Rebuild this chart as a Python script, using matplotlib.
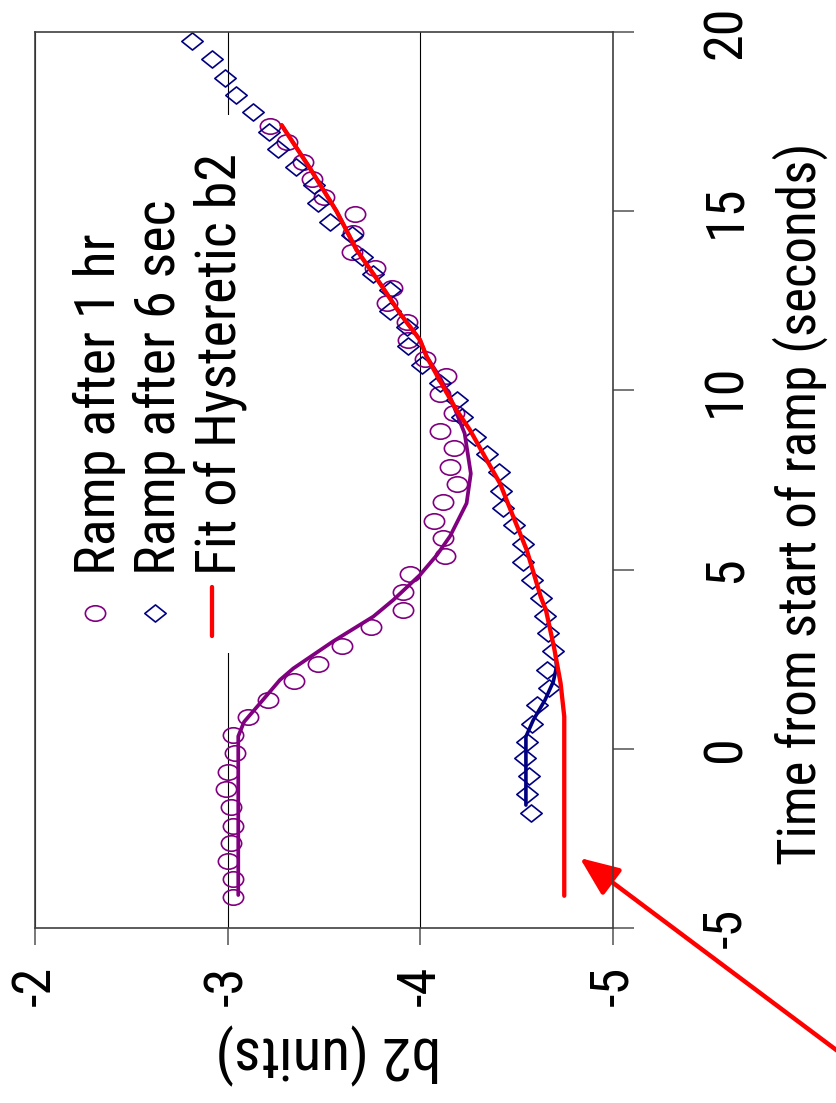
import matplotlib
matplotlib.use("Agg")
import matplotlib.pyplot as plt
from matplotlib import font_manager as fm
from matplotlib.path import Path
from matplotlib.patches import Rectangle

# ---------------- data ----------------
time_1hr = [-4.14, -3.64, -3.12, -2.64, -2.15, -1.63, -1.13, -0.65, -0.13, 0.39,
            0.88, 1.36, 1.88, 2.37, 2.87, 3.39, 3.87, 4.37, 4.89, 5.38,
            5.87, 6.36, 6.89, 7.39, 7.87, 8.38, 8.88, 9.36, 9.90, 10.40,
            10.87, 11.41, 11.92, 12.43, 12.85, 13.41, 13.87, 14.38, 14.91, 15.40,
            15.90, 16.38, 16.92, 17.39]
b2_1hr = [-3.026, -3.026, -3.003, -3.015, -3.026, -3.015, -2.991, -3.000, -3.038, -3.026,
          -3.107, -3.207, -3.344, -3.470, -3.595, -3.742, -3.911, -3.911, -3.946, -4.128,
          -4.116, -4.071, -4.116, -4.191, -4.154, -4.174, -4.102, -4.174, -4.102, -4.133,
          -4.024, -3.937, -3.932, -3.828, -3.851, -3.764, -3.643, -3.652, -3.661, -3.500,
          -3.436, -3.389, -3.306, -3.219]

time_6sec = [-1.78, -1.27, -0.76, -0.27, 0.20, 0.69, 1.22, 1.71, 2.20, 2.74,
             3.22, 3.71, 4.22, 4.71, 5.22, 5.71, 6.24, 6.73, 7.20, 7.73,
             8.23, 8.69, 9.27, 9.73, 10.21, 10.71, 11.24, 11.76, 12.22, 12.80,
             13.26, 13.71, 14.34, 14.71, 15.22, 15.73, 16.24, 16.74, 17.20, 17.76,
             18.25, 18.72, 19.25, 19.75]
b2_6sec = [-4.572, -4.555, -4.565, -4.543, -4.555, -4.577, -4.603, -4.669, -4.655, -4.690,
           -4.664, -4.647, -4.626, -4.577, -4.531, -4.534, -4.486, -4.427, -4.417, -4.410,
           -4.347, -4.283, -4.214, -4.191, -4.102, -4.007, -3.937, -3.929, -3.842, -3.842,
           -3.756, -3.695, -3.643, -3.531, -3.470, -3.448, -3.354, -3.263, -3.216, -3.133,
           -3.043, -2.986, -2.917, -2.813]

fit1hr_time = [-4.08, 0.35, 0.75, 1.27, 1.92, 2.24, 3.00, 3.69, 4.15, 4.85, 5.40,
               5.93, 6.85, 7.68, 8.80, 9.82, 10.38, 10.94, 11.41, 12.15, 12.99,
               13.92, 14.99, 16.20, 17.40]
fit1hr_b2 = [-3.055, -3.055, -3.085, -3.168, -3.271, -3.340, -3.548, -3.756, -3.859, -3.998, -4.085,
             -4.154, -4.240, -4.262, -4.230, -4.154, -4.100, -4.033, -3.998, -3.894, -3.790,
             -3.669, -3.566, -3.427, -3.280]

fit6s_time = [-1.57, 0.34, 0.80, 1.36, 1.87, 2.29, 2.60]
fit6s_b2 = [-4.548, -4.548, -4.586, -4.647, -4.690, -4.707, -4.702]

hyst_time = [-4.10, 0.90, 1.83, 2.80, 3.87, 4.24, 5.55, 6.48, 7.41, 8.15, 8.90,
             9.45, 10.10, 10.94, 11.41, 12.15, 12.99, 13.92, 14.99, 16.20, 17.40]
hyst_b2 = [-4.747, -4.747, -4.728, -4.695, -4.652, -4.625, -4.552, -4.482, -4.413, -4.335, -4.257,
           -4.188, -4.119, -4.033, -3.998, -3.894, -3.790, -3.669, -3.566, -3.427, -3.280]

time_ticks = [-5, 0, 5, 10, 15, 20]
b2_ticks = [-2, -3, -4, -5]
legend_labels = ["Ramp after 1 hr", "Ramp after 6 sec", "Fit of Hysteretic b2"]
x_label = "b2 (units)"
y_label = "Time from start of ramp (seconds)"

PURPLE = "#800080"
NAVY = "#000080"
RED = "#FF0000"

# ---------------- font ----------------
names = {f.name for f in fm.fontManager.ttflist}
FONT, K = "DejaVu Sans", 0.72
for fam, k in [("Liberation Sans Narrow", 1.0), ("Roboto Condensed", 0.93),
               ("Liberation Sans", 0.82)]:
    if fam in names:
        FONT, K = fam, k
        break
plt.rcParams["font.family"] = [FONT, "DejaVu Sans"]

# ---------------- markers ----------------
uc = Path.unit_circle()
ellipse = Path(uc.vertices * [1.0, 0.76], uc.codes)
diamond = Path([(0, 0.8), (1, 0), (0, -0.8), (-1, 0), (0, 0.8)],
               [Path.MOVETO, Path.LINETO, Path.LINETO, Path.LINETO, Path.CLOSEPOLY])
MS_C, MS_D, MEW = 14.6, 15.4, 1.2

# ---------------- figure ----------------
fig = plt.figure(figsize=(8.36, 11.03), dpi=100)
ax = fig.add_axes([35 / 836, 1 - 928 / 1103, 578 / 836, 896 / 1103])
ax.set_xlim(-2, -5)
ax.set_ylim(-5, 20)

for s in ax.spines.values():
    s.set_color("#404040")
    s.set_linewidth(1.2)
    s.set_zorder(6)

ax.set_xticks(b2_ticks)
ax.set_xticklabels([str(v) for v in b2_ticks])
ax.set_yticks(time_ticks)
ax.set_yticklabels([str(v) for v in time_ticks])
ax.yaxis.tick_right()
ax.tick_params(axis="y", left=False, right=True, labelleft=False, labelright=True,
               direction="out", length=15, width=1.2, color="#606060",
               pad=48, labelsize=42 * K, labelrotation=90)
ax.tick_params(axis="x", direction="out", length=12, width=1.2, color="#606060",
               pad=15, labelsize=42 * K, labelrotation=90)
for lab in ax.get_yticklabels():
    lab.set_verticalalignment("center")

ax.set_axisbelow(True)
ax.grid(axis="x", color="black", lw=0.8)

# legend background (covers the gridline)
ax.add_patch(Rectangle((-2.14, 2.673), -0.903, 17.68 - 2.673,
                       facecolor="white", edgecolor="none", zorder=1))

# data
ax.plot(b2_1hr, time_1hr, ls="none", marker=ellipse, ms=MS_C, mfc="none",
        mec=PURPLE, mew=MEW, zorder=3)
ax.plot(b2_6sec, time_6sec, ls="none", marker=diamond, ms=MS_D, mfc="none",
        mec=NAVY, mew=MEW, zorder=3)
ax.plot(fit1hr_b2, fit1hr_time, color=PURPLE, lw=2.7, zorder=4,
        solid_joinstyle="round", solid_capstyle="round")
ax.plot(fit6s_b2, fit6s_time, color=NAVY, lw=2.6, zorder=4,
        solid_joinstyle="round", solid_capstyle="round")
ax.plot(hyst_b2, hyst_time, color=RED, lw=3.1, zorder=5,
        solid_joinstyle="round", solid_capstyle="round")

# legend (rotated, drawn by hand)
ax.plot([-2.311], [3.79], ls="none", marker=ellipse, ms=MS_C, mfc="none",
        mec=PURPLE, mew=MEW, zorder=3)
ax.plot([-2.623], [3.79], ls="none", marker=diamond, ms=MS_D, mfc="none",
        mec=NAVY, mew=MEW, zorder=3)
ax.plot([-2.918, -2.918], [3.15, 4.51], color=RED, lw=3.1, zorder=5,
        solid_capstyle="round")
for lab, xb in zip(legend_labels, [-2.415, -2.727, -3.043]):
    ax.text(xb, 4.85, lab, rotation=90, rotation_mode="anchor", ha="left",
            va="baseline", fontsize=43.5 * K, color="black", zorder=6)

# axis labels
ax.yaxis.set_label_position("right")
ax.set_ylabel(y_label, fontsize=41 * K, rotation=90)
ax.yaxis.set_label_coords(1.276, 0.4732)
ax.set_xlabel(x_label, fontsize=46 * K, rotation=180)
ax.xaxis.set_label_coords(0.507, -0.106)

# red arrow
ax.annotate("", xy=(-4.828, -3.047), xycoords="data",
            xytext=(863, 33), textcoords="figure pixels",
            arrowprops=dict(arrowstyle="-|>,head_length=1.2,head_width=0.5",
                            mutation_scale=20, color=RED, lw=3.2,
                            shrinkA=0, shrinkB=0),
            annotation_clip=False)

fig.savefig("out.png", dpi=100)
